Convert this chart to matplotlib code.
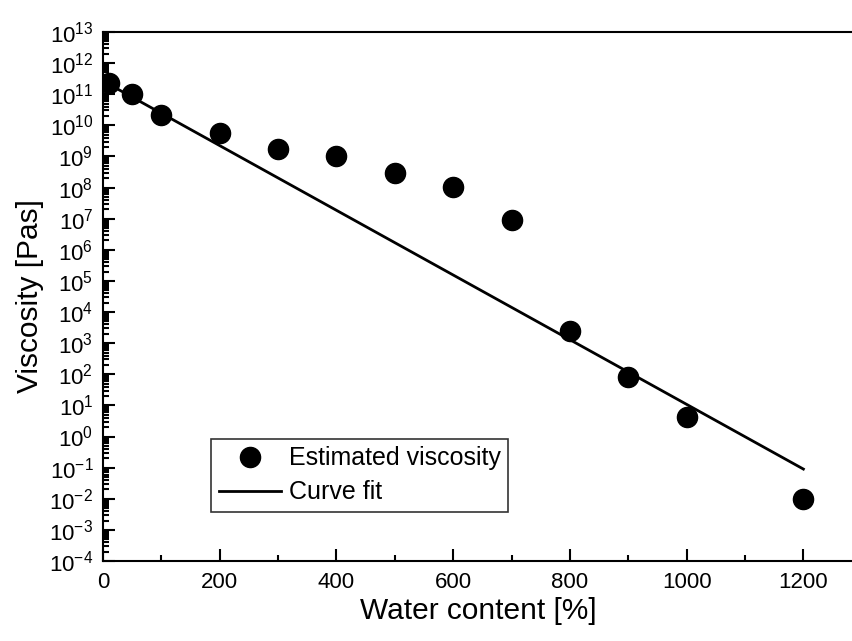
import matplotlib
matplotlib.use('Agg')
import matplotlib.pyplot as plt
from matplotlib.ticker import LogLocator, MultipleLocator, LogFormatterMathtext, NullFormatter

plt.rcParams['font.family'] = ['Liberation Sans', 'DejaVu Sans']
plt.rcParams['mathtext.fontset'] = 'custom'
plt.rcParams['mathtext.rm'] = 'Liberation Sans'
plt.rcParams['mathtext.it'] = 'Liberation Sans:italic'
plt.rcParams['axes.unicode_minus'] = False

# estimated viscosity points
water = [10, 50, 100, 200, 300, 400, 500, 600, 700, 800, 900, 1000, 1200]
visc = [2.3e11, 1.0e11, 2.1e10, 5.5e9, 1.7e9, 1.0e9, 3.0e8, 1.07e8, 9e6,
        2.4e3, 83, 4.1, 0.0096]

# curve fit (straight line on log axis)
fit_x = [10, 1200]
fit_y = [2.1e11, 0.09]

fig = plt.figure(figsize=(8.53, 6.41), dpi=100)
ax = fig.add_axes([0.1208, 0.1248, 0.8792, 0.8253])

ax.plot(fit_x, fit_y, '-', color='black', lw=2.0, label='Curve fit', zorder=2)
ax.plot(water, visc, 'o', color='black', ms=14.5, label='Estimated viscosity', zorder=3)

ax.set_yscale('log')
ax.set_xlim(0, 1285)
ax.set_ylim(1e-4, 1e13)

ax.xaxis.set_major_locator(MultipleLocator(200))
ax.xaxis.set_minor_locator(MultipleLocator(100))
ax.yaxis.set_major_locator(LogLocator(base=10, numticks=30))
ax.yaxis.set_minor_locator(LogLocator(base=10, subs=range(2, 10), numticks=30))
ax.yaxis.set_major_formatter(LogFormatterMathtext())
ax.yaxis.set_minor_formatter(NullFormatter())

ax.tick_params(which='both', direction='in', labelsize=16, width=1.5,
               top=False, right=False)
ax.tick_params(which='major', length=8.5)
ax.tick_params(which='minor', length=4.3)
ax.tick_params(axis='y', pad=7)
ax.tick_params(axis='x', pad=8)

for s in ['left', 'bottom', 'top']:
    ax.spines[s].set_linewidth(1.5)
ax.spines['right'].set_visible(False)

ax.set_xlabel('Water content [%]', fontsize=21.5, labelpad=3)
ax.set_ylabel('Viscosity [Pas]', fontsize=21.5, labelpad=4)

h, l = ax.get_legend_handles_labels()
leg = ax.legend(h[::-1], l[::-1], loc='upper left', bbox_to_anchor=(0.144, 0.231),
                fontsize=18, frameon=True, fancybox=False, edgecolor='black',
                borderpad=0.3, handlelength=2.5, handletextpad=0.3,
                labelspacing=0.4, borderaxespad=0)
leg.get_frame().set_linewidth(1.2)

plt.savefig('out.png', dpi=100)
